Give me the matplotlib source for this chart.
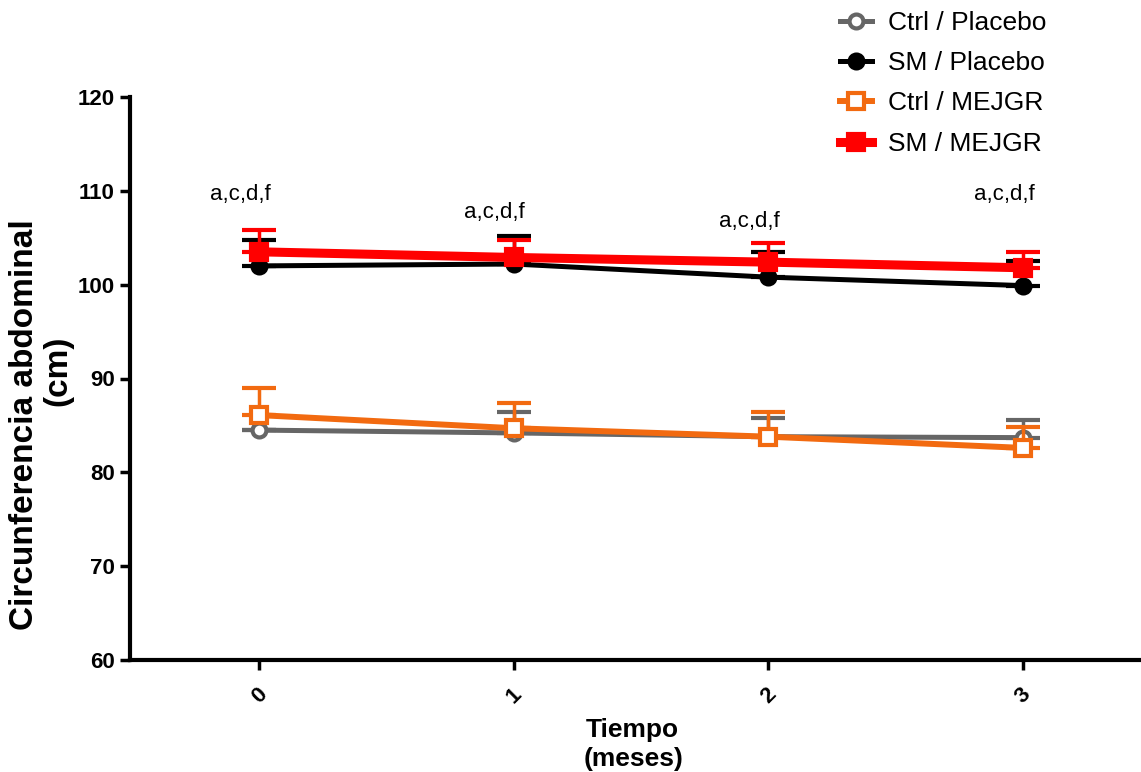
import matplotlib
matplotlib.use("Agg")
import matplotlib.pyplot as plt
import numpy as np

plt.rcParams['font.family'] = ['Liberation Sans', 'DejaVu Sans']

months = [0, 1, 2, 3]
tick_labels = ["0", "1", "2", "3"]

ctrl_placebo = [84.5, 84.2, 83.8, 83.7]
ctrl_placebo_err = [0.0, 2.2, 2.0, 1.9]
sm_placebo = [102.0, 102.2, 100.8, 99.9]
sm_placebo_err = [2.8, 3.0, 2.7, 2.6]
ctrl_mejgr = [86.1, 84.7, 83.8, 82.6]
ctrl_mejgr_err = [2.9, 2.7, 2.6, 2.2]
sm_mejgr = [103.5, 102.9, 102.4, 101.8]
sm_mejgr_err = [2.3, 1.9, 2.0, 1.7]

annot_text = ["a,c,d,f", "a,c,d,f", "a,c,d,f", "a,c,d,f"]
annot_y = [109.6, 107.7, 106.7, 109.6]

fig = plt.figure(figsize=(11.41, 7.72), dpi=100)
ax = fig.add_axes([130/1141, 112/772, 1011/1141, 563/772])

series = [
    ("Ctrl / Placebo", ctrl_placebo, ctrl_placebo_err, "#666666", "o", "white", 3.6, 10),
    ("SM / Placebo", sm_placebo, sm_placebo_err, "#000000", "o", "#000000", 3.6, 10),
    ("Ctrl / MEJGR", ctrl_mejgr, ctrl_mejgr_err, "#F26A10", "s", "white", 4.3, 12),
    ("SM / MEJGR", sm_mejgr, sm_mejgr_err, "#FF0000", "s", "#FF0000", 6.5, 12),
]

handles = []
for i, (lab, vals, err, col, mk, mfc, lw, ms) in enumerate(series):
    ax.errorbar(months, vals, yerr=[np.zeros(len(err)), err], fmt='none',
                ecolor=col, elinewidth=2.5, capsize=12, capthick=3, zorder=2 + i)
    ln, = ax.plot(months, vals, color=col, lw=lw, marker=mk, ms=ms,
                  mfc=mfc, mec=col, mew=3, label=lab, zorder=3 + i)
    handles.append(ln)

for xv, t, yv in zip(months, annot_text, annot_y):
    ax.text(xv - 0.075, yv, t, ha='center', va='center', fontsize=16)

ax.set_xlim(-0.507, 3.463)
ax.set_ylim(60, 120)
ax.set_yticks([60, 70, 80, 90, 100, 110, 120])
ax.set_xticks(months)
ax.set_xticklabels(tick_labels, rotation=45, fontweight='bold', fontsize=16)
for lbl in ax.get_yticklabels():
    lbl.set_fontweight('bold')
    lbl.set_fontsize(16)

for s in ['top', 'right']:
    ax.spines[s].set_visible(False)
for s in ['left', 'bottom']:
    ax.spines[s].set_linewidth(3)
ax.tick_params(axis='both', width=2.5, length=7)
ax.tick_params(axis='x', pad=10)
ax.tick_params(axis='y', pad=4)

# y-axis title (two lines as in the reference, second line offset upward)
fig.text(25/1141, 1 - 425/772, "Circunferencia abdominal", rotation=90,
         ha='center', va='center', fontweight='bold', fontsize=24)
fig.text(58/1141, 1 - 371/772, "(cm)", rotation=90,
         ha='center', va='center', fontweight='bold', fontsize=24)

# x-axis title
fig.text(632/1141, 1 - 730/772, "Tiempo", ha='center', va='center',
         fontweight='bold', fontsize=19)
fig.text(634/1141, 1 - 759/772, "(meses)", ha='center', va='center',
         fontweight='bold', fontsize=19)

fig.legend(handles=handles, loc='upper left', bbox_to_anchor=(822/1141, 1.01),
           frameon=False, fontsize=19, handlelength=1.2, handletextpad=0.6,
           labelspacing=0.62, borderaxespad=0.3)

fig.savefig("out.png", dpi=100)
